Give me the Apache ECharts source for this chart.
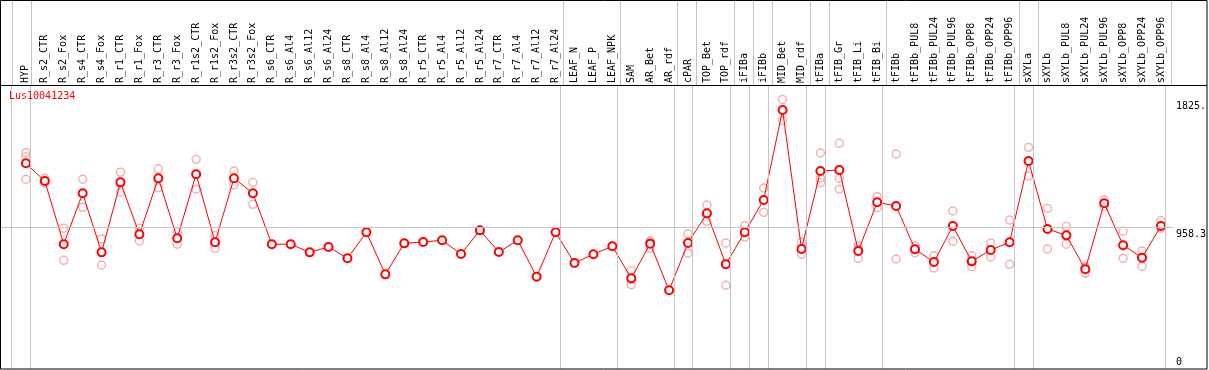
<!DOCTYPE html>
<html>
<head>
<meta charset="utf-8">
<script src="https://cdn.jsdelivr.net/npm/echarts@6/dist/echarts.min.js"></script>
<style>html,body{margin:0;padding:0;background:#fff;}#c{width:1209px;height:370px;}</style>
</head>
<body>
<div id="c"></div>
<script>
const title = 'Lus10041234';
const categories = ['HYP','R_s2_CTR','R_s2_Fox','R_s4_CTR','R_s4_Fox','R_r1_CTR','R_r1_Fox','R_r3_CTR','R_r3_Fox','R_r1s2_CTR','R_r1s2_Fox','R_r3s2_CTR','R_r3s2_Fox','R_s6_CTR','R_s6_Al4','R_s6_Al12','R_s6_Al24','R_s8_CTR','R_s8_Al4','R_s8_Al12','R_s8_Al24','R_r5_CTR','R_r5_Al4','R_r5_Al12','R_r5_Al24','R_r7_CTR','R_r7_Al4','R_r7_Al12','R_r7_Al24','LEAF_N','LEAF_P','LEAF_NPK','SAM','AR_Bet','AR_rdf','cPAR','TOP_Bet','TOP_rdf','iFIBa','iFIBb','MID_Bet','MID_rdf','tFIBa','tFIB_Gr','tFIB_Li','tFIB_Bi','tFIBb','tFIBb_PUL8','tFIBb_PUL24','tFIBb_PUL96','tFIBb_OPP8','tFIBb_OPP24','tFIBb_OPP96','sXYLa','sXYLb','sXYLb_PUL8','sXYLb_PUL24','sXYLb_PUL96','sXYLb_OPP8','sXYLb_OPP24','sXYLb_OPP96'];
const means = [1393,1273,845,1190,790,1264,912,1292,885,1319,858,1292,1190,845,845,790,826,750,926,641,851,860,872,779,939,792,872,625,926,718,777,831,614,849,533,853,1054,709,926,1145,1754,813,1341,1348,799,1129,1104,811,725,968,729,806,858,1409,948,905,675,1122,838,754,968];
const replicates = [[1465,1438,1285],[1292,1258,1273],[953,736],[1285,1095],[880,704],[1332,1197],[953,867],[1354,1228],[930,845],[1420,1217],[903,817],[1341,1246],[1264,1115],[],[],[],[],[],[],[],[],[],[],[],[],[],[],[],[],[],[],[],[666,605,571],[867,817,862],[],[914,784],[1111,1000],[853,567],[970,892],[1226,1061],[1825,1683],[858,777,813],[1463,1292,1262],[1529,1292,1217],[835,750,813],[1167,1092],[1456,745],[835,788],[767,684],[1070,865],[767,693],[853,759],[1009,709],[1501,1307],[1088,813],[966,845],[689,648,689],[1145,1100],[933,750],[799,696],[1004,953]];
const separatorsAfter = [-1,0,28,31,34,35,37,38,39,41,42,45,52,53,60];
const midLineValue = 958.3;
const yTickValues = [958.3, 1825];
const yTickLabels = ['958.3', '1825.'];
const yZeroLabel = '0';

const X_MIN = -25/19, X_MAX = 1152/19, Y_MAX = 1916.6;
const FONT = 'DejaVu Sans Mono';
const sepColor = '#c4c4c4';

const repData = [];
replicates.forEach((arr, i) => arr.forEach(v => repData.push([i, v])));
const meanData = means.map((v, i) => [i, v]);
const sepLines = separatorsAfter.map(s => ({ xAxis: s + 0.25 }));

const chart = echarts.init(document.getElementById('c'), null, { renderer: 'canvas' });
chart.setOption({
  animation: false,
  backgroundColor: '#fff',
  title: { text: title, left: 9, top: 91, padding: 0, textStyle: { color: '#ff0000', fontFamily: FONT, fontSize: 10, fontWeight: 'normal' } },
  grid: [
    { left: 1, right: 31, top: 86, bottom: 1 },
    { left: 1, right: 31, top: 0, height: 86 }
  ],
  xAxis: [
    { type: 'value', gridIndex: 0, min: X_MIN, max: X_MAX, position: 'top',
      axisLine: { show: false }, axisTick: { show: false }, splitLine: { show: false },
      axisLabel: { customValues: categories.map((_, i) => i), formatter: v => categories[Math.round(v)], rotate: 90,
        fontFamily: FONT, fontSize: 10, color: '#000', margin: 3, hideOverlap: false } },
    { type: 'value', gridIndex: 1, min: X_MIN, max: X_MAX, show: false }
  ],
  yAxis: [
    { type: 'value', gridIndex: 0, min: 0, max: Y_MAX, position: 'right',
      axisLine: { show: false }, axisTick: { show: false }, splitLine: { show: false },
      axisLabel: { customValues: yTickValues, formatter: v => yTickLabels[yTickValues.indexOf(v)], verticalAlign: 'top',
        margin: 3, padding: [2, 0, 0, 0], fontFamily: FONT, fontSize: 10, color: '#000' } },
    { type: 'value', gridIndex: 1, min: 0, max: 1, show: false },
    { type: 'value', gridIndex: 0, min: 0, max: Y_MAX, position: 'right',
      axisLine: { show: false }, axisTick: { show: false }, splitLine: { show: false },
      axisLabel: { customValues: [0], formatter: () => yZeroLabel, verticalAlign: 'bottom',
        margin: 3, padding: [0, 0, 2, 0], fontFamily: FONT, fontSize: 10, color: '#000' } }
  ],
  series: [
    { type: 'line', xAxisIndex: 1, yAxisIndex: 1, data: [], silent: true, color: sepColor,
      markLine: { silent: true, symbol: ['none', 'none'], label: { show: false },
        lineStyle: { color: sepColor, width: 1, type: 'solid' }, data: sepLines } },
    { type: 'line', xAxisIndex: 0, yAxisIndex: 0, data: [], silent: true, color: sepColor,
      markLine: { silent: true, symbol: ['none', 'none'], label: { show: false },
        lineStyle: { color: sepColor, width: 1, type: 'solid' },
        data: sepLines.concat([{ yAxis: midLineValue }]) } },
    { type: 'scatter', xAxisIndex: 0, yAxisIndex: 0, data: repData, symbol: 'circle', symbolSize: 8,
      itemStyle: { color: 'rgba(255,255,255,0)', borderColor: '#f09a9a', borderWidth: 1.4 }, silent: true },
    { type: 'line', xAxisIndex: 0, yAxisIndex: 0, data: meanData, symbol: 'emptyCircle', symbolSize: 8,
      color: '#ff0000',
      lineStyle: { color: '#ff0000', width: 1 },
      itemStyle: { color: '#ff0000', borderColor: '#ff0000', borderWidth: 1.8 }, silent: true }
  ],
  graphic: [
    { type: 'rect', shape: { x: 0.5, y: 0.5, width: 1206.5, height: 368.5 }, style: { fill: null, stroke: '#000', lineWidth: 1 }, silent: true, z: 10 },
    { type: 'line', shape: { x1: 0.5, y1: 85.5, x2: 1207, y2: 85.5 }, style: { stroke: '#000', lineWidth: 1 }, silent: true, z: 10 }
  ]
});
</script>
</body>
</html>
